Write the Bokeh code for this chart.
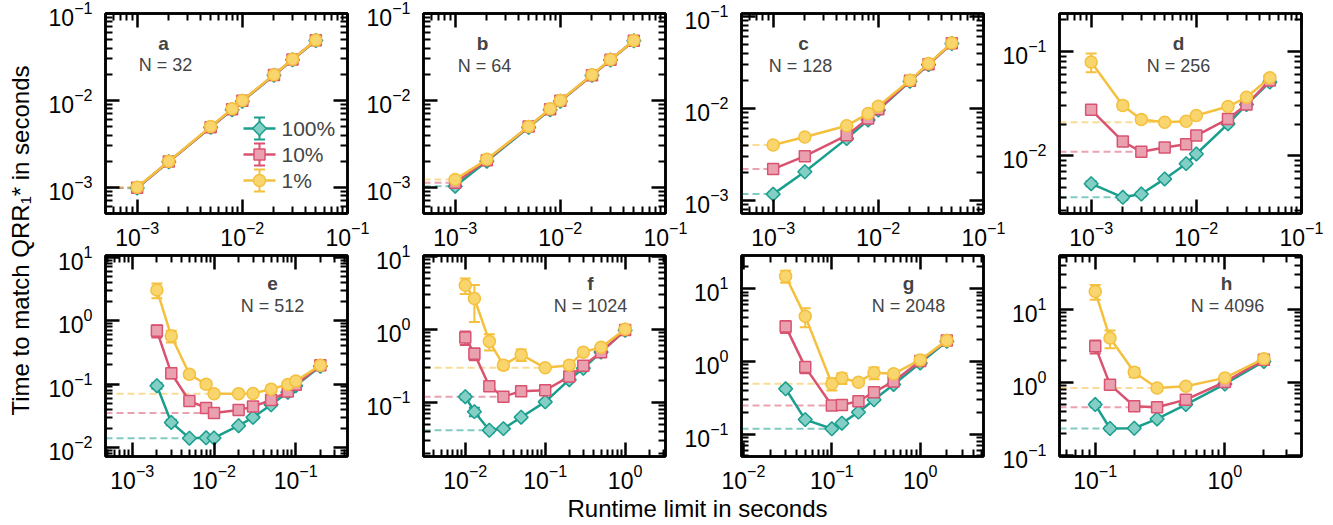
import math
from bokeh.plotting import figure
from bokeh.models import (Range1d, LogAxis, FixedTicker, CustomJSTickFormatter, Label)
from bokeh.layouts import row, column
from bokeh.embed import file_html
from bokeh.resources import INLINE
from bokeh.core.properties import value

# ---------------- data ----------------
SERIES_NAMES = ["100%", "10%", "1%"]
PANEL_LETTERS = ["a", "b", "c", "d", "e", "f", "g", "h"]
PANEL_N = ["N = 32", "N = 64", "N = 128", "N = 256", "N = 512", "N = 1024", "N = 2048", "N = 4096"]

X_A = [0.001, 0.002, 0.005, 0.008, 0.01, 0.02, 0.03, 0.05]
A_100 = [0.00098, 0.00197, 0.0049, 0.0078, 0.0098, 0.0195, 0.0294, 0.0490]
A_10 = [0.00099, 0.00198, 0.0049, 0.0079, 0.0099, 0.0196, 0.0295, 0.0492]
A_1 = [0.00100, 0.00199, 0.0050, 0.0080, 0.0100, 0.0197, 0.0297, 0.0494]
A_100_ERR = [0.00002, 0.00004, 0.0001, 0.00015, 0.0002, 0.0004, 0.0006, 0.001]
A_10_ERR = [0.00002, 0.00004, 0.0001, 0.00015, 0.0002, 0.0004, 0.0006, 0.001]
A_1_ERR = [0.00002, 0.00004, 0.0001, 0.00015, 0.0002, 0.0004, 0.0006, 0.001]

X_B = [0.001, 0.002, 0.005, 0.008, 0.01, 0.02, 0.03, 0.05]
B_100 = [0.00103, 0.00200, 0.0049, 0.0078, 0.0098, 0.0194, 0.0292, 0.0485]
B_10 = [0.00113, 0.00205, 0.0050, 0.0079, 0.0099, 0.0195, 0.0293, 0.0487]
B_1 = [0.00123, 0.00210, 0.0050, 0.0080, 0.0100, 0.0197, 0.0295, 0.0490]
B_100_ERR = [0.00003, 0.00004, 0.0001, 0.00015, 0.0002, 0.0004, 0.0006, 0.001]
B_10_ERR = [0.00003, 0.00004, 0.0001, 0.00015, 0.0002, 0.0004, 0.0006, 0.001]
B_1_ERR = [0.00003, 0.00005, 0.0001, 0.00015, 0.0002, 0.0004, 0.0006, 0.001]

X_C = [0.001, 0.002, 0.005, 0.008, 0.01, 0.02, 0.03, 0.05]
C_100 = [0.00117, 0.00205, 0.0047, 0.0075, 0.0096, 0.0198, 0.0300, 0.0510]
C_10 = [0.00219, 0.00303, 0.0051, 0.0078, 0.0098, 0.0200, 0.0302, 0.0512]
C_1 = [0.0040, 0.0049, 0.0065, 0.0088, 0.0106, 0.0203, 0.0308, 0.0516]
C_100_ERR = [0.00003, 0.00005, 0.0001, 0.00015, 0.0002, 0.0004, 0.0006, 0.001]
C_10_ERR = [0.00006, 0.0001, 0.00012, 0.00015, 0.0002, 0.0004, 0.0006, 0.001]
C_1_ERR = [0.0001, 0.00012, 0.00015, 0.0002, 0.0002, 0.0004, 0.0006, 0.001]

X_D = [0.001, 0.002, 0.003, 0.005, 0.008, 0.01, 0.02, 0.03, 0.05]
D_100 = [0.0054, 0.0040, 0.0043, 0.0060, 0.0084, 0.0104, 0.0202, 0.0309, 0.0507]
D_10 = [0.0275, 0.0137, 0.0109, 0.0120, 0.0129, 0.0156, 0.0225, 0.0309, 0.0526]
D_1 = [0.079, 0.0303, 0.0222, 0.0209, 0.0214, 0.0243, 0.0296, 0.0363, 0.0558]
D_100_ERR = [0.0003, 0.0002, 0.0002, 0.0002, 0.0003, 0.0003, 0.0005, 0.0006, 0.0008]
D_10_ERR = [0.002, 0.0012, 0.0006, 0.0005, 0.0006, 0.0006, 0.0006, 0.0007, 0.0009]
D_1_ERR = [0.016, 0.0025, 0.0015, 0.0008, 0.0008, 0.0008, 0.0008, 0.0008, 0.001]

X_E = [0.002, 0.003, 0.005, 0.008, 0.01, 0.02, 0.03, 0.05, 0.08, 0.1, 0.2]
E_100 = [0.094, 0.0248, 0.0140, 0.0142, 0.0141, 0.022, 0.0298, 0.047, 0.074, 0.094, 0.19]
E_10 = [0.69, 0.148, 0.054, 0.042, 0.035, 0.039, 0.044, 0.056, 0.076, 0.097, 0.197]
E_1 = [3.04, 0.57, 0.142, 0.099, 0.0700, 0.0705, 0.0708, 0.083, 0.098, 0.111, 0.198]
E_100_ERR = [0.01, 0.0025, 0.0008, 0.0008, 0.0008, 0.001, 0.0012, 0.002, 0.003, 0.003, 0.005]
E_10_ERR = [0.15, 0.025, 0.005, 0.004, 0.002, 0.002, 0.002, 0.003, 0.003, 0.003, 0.005]
E_1_ERR = [0.8, 0.12, 0.018, 0.012, 0.006, 0.004, 0.004, 0.004, 0.005, 0.005, 0.006]

X_F = [0.01, 0.013, 0.02, 0.03, 0.05, 0.1, 0.2, 0.3, 0.5, 1.0]
F_100 = [0.12, 0.075, 0.0418, 0.0440, 0.063, 0.102, 0.205, 0.293, 0.488, 0.97]
F_10 = [0.773, 0.464, 0.167, 0.120, 0.143, 0.147, 0.226, 0.317, 0.488, 0.98]
F_1 = [4.0, 2.64, 0.684, 0.324, 0.45, 0.298, 0.324, 0.488, 0.569, 1.0]
F_100_ERR = [0.01, 0.01, 0.003, 0.002, 0.003, 0.004, 0.006, 0.008, 0.01, 0.02]
F_10_ERR = [0.16, 0.085, 0.015, 0.008, 0.008, 0.008, 0.01, 0.01, 0.012, 0.02]
F_1_ERR = [0.95, 1.38, 0.17, 0.04, 0.08, 0.02, 0.03, 0.04, 0.04, 0.02]

X_G = [0.03, 0.05, 0.1, 0.13, 0.2, 0.3, 0.5, 1.0, 2.0]
G_100 = [0.42, 0.158, 0.118, 0.141, 0.20, 0.296, 0.482, 0.948, 1.90]
G_10 = [3.04, 0.835, 0.247, 0.252, 0.283, 0.377, 0.53, 1.01, 1.95]
G_1 = [14.9, 4.18, 0.492, 0.589, 0.518, 0.698, 0.676, 1.05, 1.95]
G_100_ERR = [0.03, 0.01, 0.005, 0.006, 0.008, 0.01, 0.015, 0.02, 0.04]
G_10_ERR = [0.57, 0.15, 0.015, 0.012, 0.012, 0.015, 0.02, 0.03, 0.04]
G_1_ERR = [2.8, 1.23, 0.095, 0.1, 0.05, 0.13, 0.05, 0.05, 0.05]

X_H = [0.1, 0.13, 0.2, 0.3, 0.5, 1.0, 2.0]
H_100 = [0.497, 0.234, 0.236, 0.316, 0.497, 0.948, 1.93]
H_10 = [3.1, 0.93, 0.471, 0.456, 0.58, 1.01, 2.04]
H_1 = [17.4, 4.02, 1.37, 0.836, 0.882, 1.15, 2.1]
H_100_ERR = [0.04, 0.015, 0.01, 0.01, 0.015, 0.02, 0.04]
H_10_ERR = [0.63, 0.13, 0.03, 0.02, 0.02, 0.03, 0.05]
H_1_ERR = [4.0, 1.1, 0.2, 0.06, 0.05, 0.05, 0.05]

# axis limits of each panel (x, y)
XLIMS = [(5e-4, 0.1), (5e-4, 0.1), (5e-4, 0.1), (5e-4, 0.1),
         (4.7e-4, 0.43), (0.003, 3.2), (0.0095, 5.2), (0.053, 3.9)]
YLIMS = [(5e-4, 0.1), (5e-4, 0.1), (7.2e-4, 0.108), (2.8e-3, 0.23),
         (0.0072, 10.6), (0.0183, 10.2), (0.049, 28.8), (0.097, 54)]

PANELS = [
    (X_A, [A_100, A_10, A_1], [A_100_ERR, A_10_ERR, A_1_ERR]),
    (X_B, [B_100, B_10, B_1], [B_100_ERR, B_10_ERR, B_1_ERR]),
    (X_C, [C_100, C_10, C_1], [C_100_ERR, C_10_ERR, C_1_ERR]),
    (X_D, [D_100, D_10, D_1], [D_100_ERR, D_10_ERR, D_1_ERR]),
    (X_E, [E_100, E_10, E_1], [E_100_ERR, E_10_ERR, E_1_ERR]),
    (X_F, [F_100, F_10, F_1], [F_100_ERR, F_10_ERR, F_1_ERR]),
    (X_G, [G_100, G_10, G_1], [G_100_ERR, G_10_ERR, G_1_ERR]),
    (X_H, [H_100, H_10, H_1], [H_100_ERR, H_10_ERR, H_1_ERR]),
]

# ---------------- styles ----------------
FONT = "Liberation Sans"
EDGE = ["#1a9e8e", "#d95370", "#f4c03e"]
FILL = ["#84cfc5", "#e9a1b0", "#f8d66d"]
MARK = [("square", math.pi / 4, 9.8), ("square", 0.0, 11.0), ("circle", 0.0, 12.0)]

MAJOR = [10.0 ** k for k in range(-5, 3)]
MINOR = [m * 10.0 ** k for k in range(-5, 3) for m in range(2, 10)]

# label positions (px from frame left, px from frame top)
LETTER_POS = [(58, 30), (59, 30), (62, 30), (119, 30), (167, 28), (167, 28), (167, 28), (167, 28)]
N_POS = [(60, 51), (61, 52), (59, 52), (119, 52), (167, 50), (167, 50), (167, 50), (168, 50)]
# legend (panel a): px from frame left / top
LEG_ROWS = [115, 141, 167]
LEG_X0, LEG_XC, LEG_X1, LEG_TX = 138, 154, 170, 176

FW = 242
L_B, R_B = 64, 32
ROW_TOP = [13, 15]
ROW_FH = [200, 201]
ROW_BOT = [40, 36]


def style_axis(ax, labels=True):
    ax.axis_line_width = 2.5
    ax.axis_line_color = "black"
    ax.major_tick_in = 14
    ax.major_tick_out = 0
    ax.minor_tick_in = 7
    ax.minor_tick_out = 0
    ax.major_tick_line_width = 2.5
    ax.minor_tick_line_width = 2
    ax.major_tick_line_color = "black"
    ax.minor_tick_line_color = "black"
    ax.major_label_text_font = FONT
    ax.major_label_text_color = "black"
    if labels:
        ax.major_label_text_font_size = "23px"
    else:
        ax.major_label_text_font_size = "0px"
        ax.major_label_standoff = 0
        ax.formatter = CustomJSTickFormatter(code="return ''")


def make_panel(i):
    r = i // 4
    X, SER, ERR = PANELS[i]
    xr, yr = XLIMS[i], YLIMS[i]
    fh = ROW_FH[r]
    H = ROW_TOP[r] + fh + ROW_BOT[r]
    last_col = (i % 4) == 3
    p = figure(width=L_B + FW + R_B, height=H, x_axis_type="log", y_axis_type="log",
               x_range=Range1d(*xr), y_range=Range1d(*yr),
               output_backend="svg", toolbar_location=None,
               min_border_left=L_B, min_border_right=R_B,
               min_border_top=ROW_TOP[r], min_border_bottom=ROW_BOT[r],
               margin=(0, 0 if last_col else -20, 0, 0))
    p.border_fill_color = None
    p.background_fill_color = None
    p.outline_line_color = "black"
    p.outline_line_width = 2.5
    p.xgrid.visible = False
    p.ygrid.visible = False

    for ax in p.xaxis:
        ax.ticker = FixedTicker(ticks=MAJOR, minor_ticks=MINOR)
        style_axis(ax)
        ax.major_label_standoff = 7
    for ax in p.yaxis:
        ax.ticker = FixedTicker(ticks=MAJOR, minor_ticks=MINOR)
        style_axis(ax)
        ax.major_label_standoff = 13
    top = LogAxis(ticker=FixedTicker(ticks=MAJOR, minor_ticks=MINOR))
    style_axis(top, labels=False)
    p.add_layout(top, "above")
    right = LogAxis(ticker=FixedTicker(ticks=MAJOR, minor_ticks=MINOR))
    style_axis(right, labels=False)
    p.add_layout(right, "right")

    # dashed reference lines at each series' best value
    for s in range(3):
        ys = SER[s]
        k = ys.index(min(ys))
        p.line([xr[0], X[k]], [ys[k], ys[k]], line_color=EDGE[s], line_alpha=0.55,
               line_width=2, line_dash="7 4")

    for s in range(3):
        ys, es = SER[s], ERR[s]
        lo = [y - e for y, e in zip(ys, es)]
        hi = [y + e for y, e in zip(ys, es)]
        p.segment(X, lo, X, hi, line_color=EDGE[s], line_width=2)
        p.scatter(X, lo, marker="dash", size=11, line_color=EDGE[s], line_width=2)
        p.scatter(X, hi, marker="dash", size=11, line_color=EDGE[s], line_width=2)
        p.line(X, ys, line_color=EDGE[s], line_width=2.5)
        mk, ang, sz = MARK[s]
        p.scatter(X, ys, marker=mk, angle=ang, size=sz, fill_color=FILL[s],
                  line_color=EDGE[s], line_width=1.5)

    lx, ly = LETTER_POS[i]
    p.add_layout(Label(x=lx, y=fh - ly, x_units="screen", y_units="screen",
                       text=PANEL_LETTERS[i], text_font=FONT, text_font_style="bold",
                       text_font_size="19px", text_align="center", text_baseline="middle"))
    nx, ny = N_POS[i]
    p.add_layout(Label(x=nx, y=fh - ny, x_units="screen", y_units="screen",
                       text=PANEL_N[i], text_font=FONT,
                       text_font_size="18px", text_align="center", text_baseline="middle"))

    if i == 0:
        # hand-drawn legend (icon = line + error bar + marker), placed by frame pixels
        lx0, lx1 = math.log10(xr[0]), math.log10(xr[1])
        ly0, ly1 = math.log10(yr[0]), math.log10(yr[1])

        def fx(px):
            return 10 ** (lx0 + px / FW * (lx1 - lx0))

        def fy(pt):
            return 10 ** (ly1 - pt / fh * (ly1 - ly0))

        for s in range(3):
            yc = LEG_ROWS[s]
            p.line([fx(LEG_X0), fx(LEG_X1)], [fy(yc), fy(yc)], line_color=EDGE[s], line_width=2.5)
            p.segment([fx(LEG_XC)], [fy(yc - 11)], [fx(LEG_XC)], [fy(yc + 11)],
                      line_color=EDGE[s], line_width=2)
            p.scatter([fx(LEG_XC), fx(LEG_XC)], [fy(yc - 11), fy(yc + 11)], marker="dash",
                      size=11, line_color=EDGE[s], line_width=2)
            mk, ang, sz = MARK[s]
            p.scatter([fx(LEG_XC)], [fy(yc)], marker=mk, angle=ang, size=sz,
                      fill_color=FILL[s], line_color=EDGE[s], line_width=1.5)
            p.add_layout(Label(x=LEG_TX, y=fh - yc, x_units="screen", y_units="screen",
                               text=SERIES_NAMES[s], text_font=FONT, text_font_size="21px",
                               text_align="left", text_baseline="middle"))
    return p


panels = [make_panel(i) for i in range(8)]

# y-axis title
YT_W, TOTAL_H = 41, 524
yt = figure(width=YT_W, height=TOTAL_H, x_range=Range1d(0, YT_W), y_range=Range1d(0, TOTAL_H),
            x_axis_type=None, y_axis_type=None, output_backend="svg", toolbar_location=None,
            min_border=0)
yt.outline_line_color = None
yt.border_fill_color = None
yt.background_fill_color = None
yt.text(x=[20], y=[TOTAL_H - 240], text=["Time to match QRR\u2081* in seconds"],
        angle=math.pi / 2, text_align="center", text_baseline="middle",
        text_font=value(FONT), text_font_size="24px", text_color="black")

# x-axis title
XT_W, XT_H = 3 * 315 + (L_B + FW + R_B), 32
xt = figure(width=XT_W, height=XT_H, x_range=Range1d(0, XT_W), y_range=Range1d(0, XT_H),
            x_axis_type=None, y_axis_type=None, output_backend="svg", toolbar_location=None,
            min_border=0)
xt.outline_line_color = None
xt.border_fill_color = None
xt.background_fill_color = None
xt.text(x=[656], y=[16], text=["Runtime limit in seconds"], text_align="center",
        text_baseline="middle", text_font=value(FONT), text_font_size="24px",
        text_color="black")

row1 = row(*panels[:4])
row2 = row(*panels[4:], margin=(-13, 0, 0, 0))
grid = column(row1, row2, xt)
page = row(yt, grid)

open("out.html", "w").write(file_html(page, INLINE))
